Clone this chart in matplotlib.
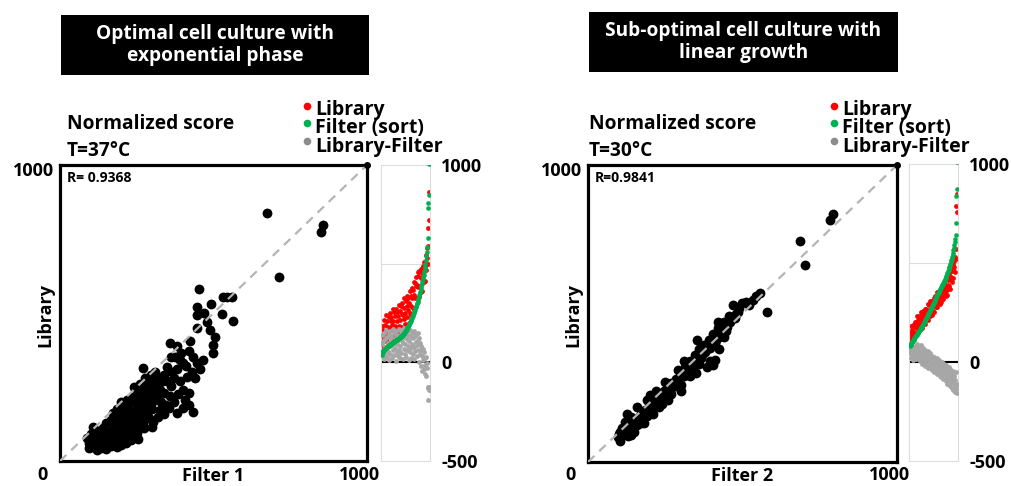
import matplotlib
matplotlib.use("Agg")
import matplotlib.pyplot as plt
from matplotlib.lines import Line2D

W, H = 1012, 486
plt.rcParams['font.family'] = ['Open Sans', 'DejaVu Sans']
plt.rcParams['font.weight'] = 'bold'

# ---------------- data ----------------
panel_titles = ["Optimal cell culture with\nexponential phase",
                "Sub-optimal cell culture with\nlinear growth"]
score_label = "Normalized score"
temps = ["T=37°C", "T=30°C"]
r_labels = ["R= 0.9368", "R=0.9841"]
x_labels = ["Filter 1", "Filter 2"]
y_label = "Library"
legend_labels = ["Library", "Filter (sort)", "Library-Filter"]
main_ticks = ["0", "1000", "1000"]
side_ticks = [1000, 0, -500]
diag = [0, 1000]

filter1_x = [87, 95, 108, 120, 135, 150, 165, 185, 200, 215, 230, 239, 250, 100, 115, 130, 145, 160, 175, 190,
             205, 220, 108, 125, 140, 155, 170, 185, 200, 215, 230, 245, 260, 150, 165, 174, 190, 205, 220, 235,
             250, 217, 230, 250, 265, 280, 270, 285, 300, 271, 304, 290, 200, 185, 240, 260, 271, 277, 290, 300,
             310, 326, 315, 330, 326, 345, 358, 360, 347, 340, 335, 365, 358, 360, 380, 380, 390, 402, 413, 402,
             390, 380, 407, 434, 420, 423, 434, 445, 467, 455, 440, 499, 445, 489, 505, 499, 445, 445, 493, 527,
             532, 545, 559, 562, 453, 480, 470, 420, 310, 320, 290, 250, 230, 275, 255, 300, 673, 858, 849, 714,
             95, 110, 125, 140, 155, 170, 180, 195, 210, 225, 240, 255, 120, 135, 150, 165, 180, 195, 210, 225,
             240, 255, 270, 285, 235, 245, 260, 280, 295, 310, 320, 340, 350, 370, 375, 395, 410, 430, 300, 320,
             340, 355, 370, 385, 400, 420, 260, 275, 215, 200]
library1_y = [77, 60, 48, 37, 45, 40, 52, 48, 55, 62, 70, 82, 95, 90, 70, 65, 75, 70, 80, 72,
              85, 95, 116, 100, 110, 95, 105, 115, 110, 125, 118, 130, 110, 130, 140, 161, 150, 160, 175, 165,
              190, 206, 200, 228, 215, 200, 175, 160, 175, 127, 133, 145, 185, 175, 250, 240, 313, 280, 265, 250,
              230, 240, 210, 200, 172, 190, 218, 255, 319, 290, 270, 300, 398, 350, 387, 311, 340, 330, 285, 240,
              270, 161, 206, 167, 190, 404, 353, 330, 341, 310, 280, 364, 448, 443, 420, 392, 493, 521, 530, 497,
              555, 555, 555, 474, 581, 470, 500, 370, 300, 280, 220, 160, 140, 110, 75, 200, 839, 797, 775, 623,
              45, 58, 52, 58, 60, 62, 90, 95, 100, 105, 105, 120, 85, 88, 88, 92, 125, 130, 140, 150,
              145, 175, 190, 185, 215, 210, 260, 240, 290, 270, 255, 230, 270, 280, 350, 365, 320, 300, 115, 150,
              160, 180, 200, 225, 180, 230, 140, 145, 180, 200]

filter2_x = [98, 105, 112, 120, 110, 128, 135, 145, 150, 160, 165, 175, 180, 190, 195, 205, 210, 220, 225, 235,
             240, 250, 255, 265, 270, 280, 285, 295, 300, 310, 315, 325, 330, 340, 345, 355, 360, 370, 375, 385,
             390, 400, 405, 415, 420, 430, 440, 450, 455, 470, 480, 490, 500, 535, 545, 557, 578, 352, 120, 125,
             140, 160, 200, 230, 260, 300, 330, 360, 384, 405, 410, 395, 270, 150, 180, 210, 240, 310, 290, 250,
             220, 190, 170, 140, 100, 425, 440, 420, 350, 300, 794, 783, 686, 703,
             105, 115, 125, 135, 155, 170, 185, 200, 215, 230, 245, 260, 275, 290, 305, 320, 335, 350, 365, 380,
             395, 410, 425, 435, 445, 460, 475, 485, 510, 520]
library2_y = [85, 70, 92, 100, 115, 88, 120, 110, 135, 125, 150, 140, 165, 155, 180, 170, 200, 190, 215, 205,
              230, 220, 250, 240, 265, 255, 280, 270, 300, 290, 320, 305, 340, 325, 360, 345, 380, 360, 395, 380,
              410, 395, 430, 410, 450, 435, 470, 455, 490, 528, 500, 520, 535, 545, 560, 569, 506, 411, 135, 160,
              150, 185, 225, 185, 210, 260, 290, 330, 321, 327, 345, 340, 230, 100, 130, 160, 195, 340, 310, 270,
              240, 210, 130, 90, 95, 380, 420, 470, 300, 240, 835, 815, 744, 662,
              100, 105, 110, 100, 145, 160, 175, 190, 205, 220, 240, 250, 260, 280, 295, 310, 320, 340, 350, 370,
              385, 400, 420, 445, 440, 470, 485, 505, 540, 530]

side1_filter_sorted = [35, 44, 50, 55, 59, 62, 65, 67, 69, 71, 73, 75, 77, 79, 81, 83, 85, 86, 88, 90,
                       92, 93, 95, 97, 98, 100, 101, 103, 105, 106, 108, 109, 111, 112, 114, 115, 117, 118, 120, 121,
                       122, 124, 126, 128, 130, 132, 134, 136, 139, 142, 145, 148, 151, 154, 157, 160, 164, 168, 172, 176,
                       180, 184, 188, 192, 197, 202, 207, 213, 219, 225, 231, 237, 243, 249, 255, 261, 267, 273, 280, 287,
                       294, 301, 308, 315, 322, 331, 340, 349, 358, 368, 378, 388, 398, 409, 420, 432, 444, 456, 470, 485,
                       500, 518, 537, 558, 583, 628, 780, 806, 846, 1003]
side1_library = [130, 184, 80, 165, 119, 77, 215, 147, 189, 116, 238, 145, 102, 209, 181, 138, 230, 96, 173, 250,
                 132, 208, 230, 117, 188, 270, 166, 208, 140, 256, 183, 234, 116, 272, 164, 210, 257, 148, 235, 291,
                 182, 144, 261, 213, 285, 177, 244, 301, 154, 242, 275, 218, 326, 194, 252, 310, 189, 288, 232, 336,
                 265, 324, 198, 302, 362, 252, 337, 288, 239, 375, 326, 277, 368, 409, 270, 341, 402, 328, 385, 432,
                 324, 391, 458, 380, 437, 331, 465, 389, 458, 428, 358, 473, 428, 364, 490, 442, 409, 506, 410, 505,
                 485, 543, 467, 528, 578, 500, 590, 683, 723, 863]

side2_filter_sorted = [80, 84, 88, 92, 95, 99, 103, 106, 110, 113, 117, 120, 124, 127, 131, 134, 138, 141, 145, 148,
                       152, 155, 159, 162, 166, 169, 173, 176, 180, 184, 189, 193, 197, 201, 206, 210, 214, 218, 223, 227,
                       231, 236, 240, 244, 249, 253, 257, 262, 266, 271, 275, 280, 284, 289, 293, 298, 302, 307, 312, 317,
                       322, 327, 332, 337, 341, 346, 351, 355, 360, 364, 369, 373, 378, 382, 387, 391, 396, 401, 406, 411,
                       416, 421, 426, 431, 436, 442, 448, 454, 460, 467, 474, 481, 488, 496, 504, 513, 522, 532, 542, 553,
                       565, 578, 592, 607, 622, 640, 704, 836, 872, 1008]
side2_library = [125, 154, 108, 147, 180, 129, 163, 116, 185, 153, 182, 145, 204, 177, 146, 204, 173, 231, 190, 168,
                 212, 185, 234, 167, 216, 254, 198, 231, 170, 224, 259, 208, 242, 196, 266, 240, 194, 268, 233, 262,
                 216, 291, 260, 214, 289, 258, 232, 307, 261, 286, 235, 310, 274, 299, 258, 323, 252, 307, 292, 332,
                 277, 312, 352, 277, 336, 316, 361, 300, 335, 294, 359, 328, 303, 382, 352, 331, 376, 316, 366, 401,
                 351, 391, 331, 381, 421, 362, 338, 414, 390, 442, 384, 426, 368, 461, 429, 413, 462, 402, 497, 468,
                 425, 508, 482, 457, 532, 520, 569, 787, 760, 850]

RED, GREEN, GRAY, LEG_GRAY = '#ff0000', '#00b050', '#a6a6a6', '#8c8c8c'

# ---------------- layout helpers (pixels, top-left origin) ----------------
fig = plt.figure(figsize=(W / 100, H / 100), dpi=100)


def rect(x0, y0, x1, y1):
    return [x0 / W, 1 - y1 / H, (x1 - x0) / W, (y1 - y0) / H]


def ftext(x, y, s, **kw):
    kw.setdefault('va', 'center')
    kw.setdefault('fontweight', 'bold')
    return fig.text(x / W, 1 - y / H, s, **kw)


def fdot(x, y, color):
    fig.add_artist(Line2D([x / W], [1 - y / H], marker='o', ms=5.5, color=color,
                          mec='none', transform=fig.transFigure))


panels = [
    dict(title_box=(61, 15, 369, 75), main=(60, 165, 367, 461), side=(381, 165, 430, 461),
         sx=67, legx=307, fx=filter1_x, ly=library1_y, sf=side1_filter_sorted, sl=side1_library),
    dict(title_box=(589, 12, 898, 72), main=(588, 165, 897, 462), side=(909, 164, 958, 461),
         sx=589, legx=834, fx=filter2_x, ly=library2_y, sf=side2_filter_sorted, sl=side2_library),
]

for i, p in enumerate(panels):
    # title box
    tb = fig.add_axes(rect(*p['title_box']))
    tb.set_facecolor('black')
    tb.set_xticks([]); tb.set_yticks([])
    for s in tb.spines.values():
        s.set_visible(False)
    tb.text(0.5, 0.5, panel_titles[i], color='white', ha='center', va='center',
            fontsize=13.8, fontweight='bold', linespacing=1.15, transform=tb.transAxes)

    # headings
    ftext(p['sx'], 124, score_label, fontsize=13.8)
    ftext(p['sx'], 151, temps[i], fontsize=13.8)

    # legend: dots + one multi-line text block
    lcol = [RED, GREEN, LEG_GRAY]
    for k in range(len(legend_labels)):
        fdot(p['legx'], 106 + 17.5 * k, lcol[k])
    ftext(p['legx'] + 8, 128.5, "\n".join(legend_labels), fontsize=14,
          linespacing=0.93, ha='left')

    # main scatter
    mx0, my0, mx1, my1 = p['main']
    ax = fig.add_axes(rect(*p['main']))
    ax.scatter(p['fx'], p['ly'], s=50, c='black', linewidths=0, zorder=2)
    ax.plot(diag, diag, ls=(0, (4, 3)), color='#b4b4b4', lw=1.6, zorder=3)
    ax.plot(diag[1:], diag[1:], 'o', color='black', ms=4, clip_on=False, zorder=4)
    ax.set_xlim(diag); ax.set_ylim(diag)
    ax.set_xticks([]); ax.set_yticks([])
    for s in ax.spines.values():
        s.set_linewidth(2.3); s.set_color('black')
    ax.text(0.023, 0.955, r_labels[i], transform=ax.transAxes, fontsize=10,
            fontweight='bold', ha='left', va='center')

    ftext(mx0 - 6, 171, main_ticks[1], fontsize=13, ha='right')
    ftext(mx0 - 17, 475, main_ticks[0], fontsize=13, ha='center')
    ftext(mx1 - 7, 475, main_ticks[2], fontsize=13, ha='center')
    ftext((mx0 + mx1) / 2, 476, x_labels[i], fontsize=13, ha='center')
    ftext(mx0 - 15, 315, y_label, fontsize=13, ha='center', rotation=90)

    # side panel
    sa = fig.add_axes(rect(*p['side']))
    n = len(p['sf'])
    idx = list(range(n))
    diff = [l - f for l, f in zip(p['sl'], p['sf'])]
    sa.axhline(500, color='#dcdcdc', lw=0.8, zorder=0)
    sa.axhline(0, color='black', lw=1.5, zorder=1)
    sa.scatter(idx, p['sl'], s=12, c=RED, linewidths=0, zorder=2)
    sa.scatter(idx, diff, s=12, c=GRAY, linewidths=0, zorder=3)
    sa.scatter(idx, p['sf'], s=11, c=GREEN, linewidths=0, zorder=4)
    sa.set_xlim(-1.5, n + 0.5)
    sa.set_ylim(side_ticks[2], side_ticks[0])
    sa.set_xticks([])
    sa.set_yticks(side_ticks)
    sa.set_yticklabels([str(v) for v in side_ticks])
    sa.yaxis.tick_right()
    sa.tick_params(axis='y', length=0, pad=8, labelsize=13)
    for lab in sa.get_yticklabels():
        lab.set_fontweight('bold')
    for s in sa.spines.values():
        s.set_color('#dcdcdc'); s.set_linewidth(0.8)

fig.savefig('out.png', dpi=100)
